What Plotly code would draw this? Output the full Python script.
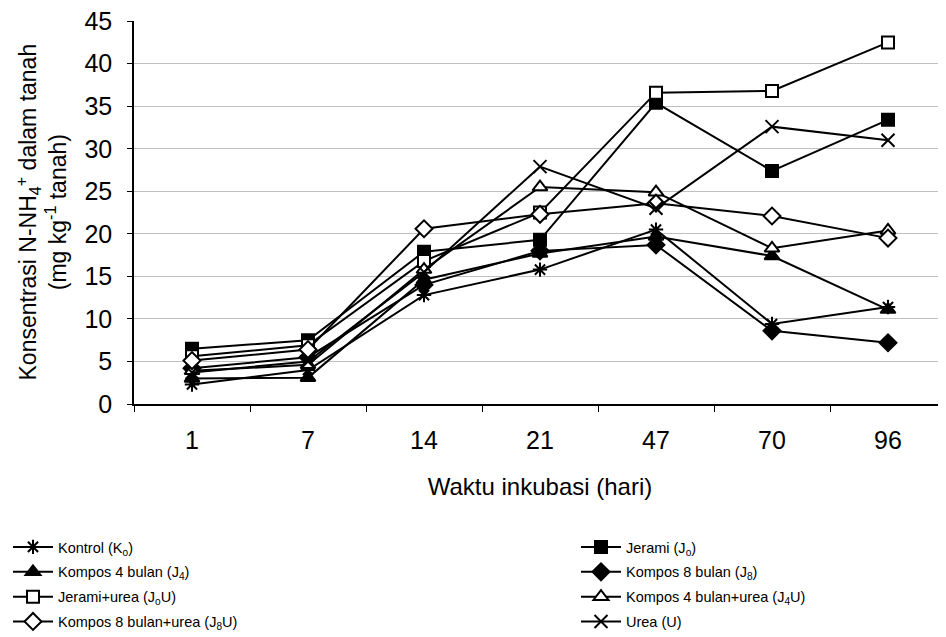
import plotly.graph_objects as go

days = ["1", "7", "14", "21", "47", "70", "96"]

kontrol = [2.3, 4.0, 12.8, 15.8, 20.5, 9.4, 11.4]
jerami = [6.5, 7.5, 17.9, 19.3, 35.4, 27.4, 33.4]
kompos4 = [3.0, 3.1, 14.6, 17.7, 19.7, 17.4, 11.1]
kompos8 = [4.2, 5.5, 14.0, 18.0, 18.7, 8.6, 7.2]
jerami_urea = [5.6, 6.9, 16.8, 22.5, 36.6, 36.8, 42.5]
kompos4_urea = [3.9, 4.6, 15.8, 25.5, 24.9, 18.3, 20.4]
kompos8_urea = [5.1, 6.4, 20.6, 22.3, 23.6, 22.1, 19.5]
urea = [3.7, 5.0, 15.5, 27.9, 23.0, 32.6, 31.0]

names = [
    "Kontrol (K<sub>o</sub>)",
    "Jerami (J<sub>o</sub>)",
    "Kompos 4 bulan (J<sub>4</sub>)",
    "Kompos 8 bulan (J<sub>8</sub>)",
    "Jerami+urea (J<sub>o</sub>U)",
    "Kompos 4 bulan+urea (J<sub>4</sub>U)",
    "Kompos 8 bulan+urea (J<sub>8</sub>U)",
    "Urea (U)",
]
series = [kontrol, jerami, kompos4, kompos8, jerami_urea, kompos4_urea, kompos8_urea, urea]
symbols = ["asterisk-open", "square", "triangle-up", "diamond", "square", "triangle-up", "diamond", "x-thin-open"]
fills = ["black", "black", "black", "black", "white", "white", "white", "black"]
sizes = [12, 12, 13, 13, 12, 13, 13, 13]
legends = ["legend", "legend2", "legend", "legend2", "legend", "legend2", "legend", "legend2"]

fig = go.Figure()
for i, (nm, ys, sym, fc, sz, lg) in enumerate(zip(names, series, symbols, fills, sizes, legends)):
    fig.add_trace(go.Scatter(
        x=days, y=ys, name=nm, mode="lines+markers",
        line=dict(color="black", width=2),
        marker=dict(symbol=sym, size=sz, color=fc, line=dict(color="black", width=2)),
        legend=lg, legendgroup=f"g{i}",
    ))

# page body has an 8px margin, so the figure is 8px smaller and offset accordingly
W, H = 938, 629
PL, PR = 126, 938
font = "Liberation Sans, Arial, sans-serif"
leg_common = dict(
    orientation="v", xref="container", yref="container",
    yanchor="top", xanchor="left",
    font=dict(size=14.5, family=font), itemwidth=40,
    traceorder="grouped", tracegroupgap=3,
    bgcolor="rgba(0,0,0,0)",
)
fig.update_layout(
    width=W, height=H,
    margin=dict(l=PL, r=W - PR, t=13, b=233, autoexpand=False),
    paper_bgcolor="white", plot_bgcolor="white",
    font=dict(family=font, color="black"),
    showlegend=True,
    legend=dict(x=0.0, y=1 - 523 / H, **leg_common),
    legend2=dict(x=568 / W, y=1 - 523 / H, **leg_common),
    xaxis=dict(
        type="category", range=[-0.5, 6.5],
        tickson="boundaries", ticks="outside", ticklen=6, tickcolor="black",
        showline=True, linecolor="black", linewidth=1.5,
        showgrid=False, tickfont=dict(size=25), ticklabelstandoff=13,
        title=dict(text="Waktu inkubasi (hari)", font=dict(size=24), standoff=25),
    ),
    yaxis=dict(
        range=[0, 45.02], dtick=5, tick0=0, ticks="outside", ticklen=5, tickcolor="black",
        showline=True, linecolor="black", linewidth=1.5,
        showgrid=True, gridcolor="#c0c0c0", gridwidth=1,
        zeroline=False, tickfont=dict(size=25), ticklabelstandoff=10,
        ticklabeloverflow="allow",
    ),
    annotations=[dict(
        text="Konsentrasi N-NH<sub>4</sub><sup>+</sup> dalam tanah<br>(mg kg<sup>-1</sup> tanah)",
        xref="paper", yref="paper", x=(33 - PL) / (PR - PL), y=0.5,
        xanchor="center", yanchor="middle", textangle=-90, showarrow=False,
        font=dict(size=23, family=font, color="black"),
    )],
)

fig.write_html("out.html")
